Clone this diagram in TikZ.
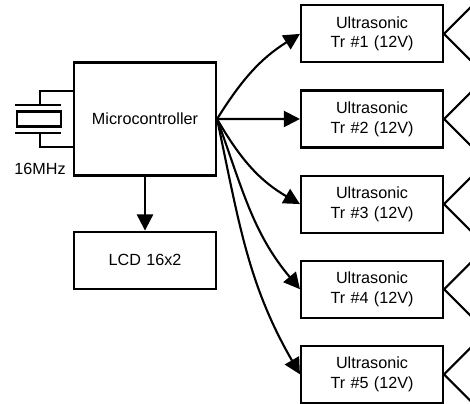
\documentclass[tikz,border=0pt]{standalone}
\usepackage{fontspec}
\setmainfont{Liberation Sans}
\usepackage{tikz}
\usetikzlibrary{arrows.meta, positioning, calc}
\tikzset{
  block/.style={
    rectangle, minimum width=3.55cm, minimum height=1.425cm,
    text centered, text width=3.4cm, inner sep=0pt,
    draw, line width=1.5pt, font=\fontsize{11.5}{14}\selectfont
  },
  arr/.style={-{Stealth[length=11.5pt, width=11.5pt, inset=0pt]}, line width=1.5pt},
  wire/.style={line width=1.5pt},
  horn/.style={line width=1.5pt}
}

\begin{document}
\begin{tikzpicture}
  \useasboundingbox (0,0) rectangle (11.75,-10.075);
  \clip (0,0) rectangle (11.75,-10.075);

  %% left side
  \node[block, minimum height=2.825cm] (mcu) at (3.625,-2.975) {Microcontroller};
  \node[block, below=1.35cm of mcu] (lcd) {LCD 16x2};
  \draw[arr] (mcu) -- (lcd);

  %% crystal
  \node[draw, wire, minimum width=1.1cm, minimum height=0.375cm, inner sep=0pt] (xtal) at (0.975,-2.975) {};
  \coordinate (ptop) at (1,-2.625);
  \coordinate (pbot) at (1,-3.325);
  \draw[wire] ($(ptop)+(-0.62,0)$) -- ($(ptop)+(0.53,0)$);
  \draw[wire] ($(pbot)+(-0.62,0)$) -- ($(pbot)+(0.53,0)$);
  \draw[wire] (ptop) |- ([yshift=0.7cm]mcu.west);
  \draw[wire] (pbot) |- ([yshift=-0.7cm]mcu.west);
  \node[font=\fontsize{11.5}{14}\selectfont] (freq) at (1.0,-4.225) {16MHz};

  %% transducers
  \node[block] (tr1) at (9.3,-0.847) {Ultrasonic\\Tr \#1 (12V)};
  \node[block, below=0.65cm of tr1] (tr2) {Ultrasonic\\Tr \#2 (12V)};
  \node[block, below=0.65cm of tr2] (tr3) {Ultrasonic\\Tr \#3 (12V)};
  \node[block, below=0.65cm of tr3] (tr4) {Ultrasonic\\Tr \#4 (12V)};
  \node[block, below=0.65cm of tr4] (tr5) {Ultrasonic\\Tr \#5 (12V)};

  \foreach \n in {tr1, tr2, tr3, tr4, tr5}
    \draw[horn] ($(\n.east)+(0.68,0.68)$) -- (\n.east) -- ($(\n.east)+(0.68,-0.68)$);

  \draw[arr] (mcu.east) to[out=58, in=212] (tr1.west);
  \draw[arr] (mcu.east) -- (tr2.west);
  \draw[arr] (mcu.east) to[out=-60, in=150] (tr3.west);
  \draw[arr] (mcu.east) to[out=-70, in=130] (tr4.west);
  \draw[arr] (mcu.east) to[out=-78, in=120] (tr5.west);
\end{tikzpicture}
\end{document}
